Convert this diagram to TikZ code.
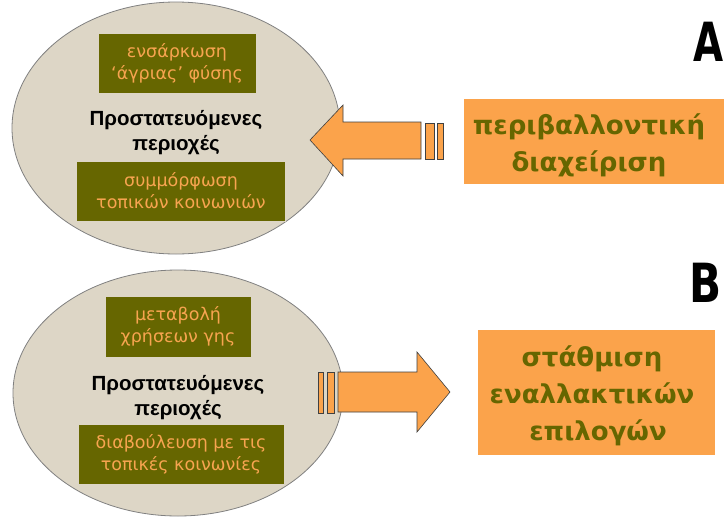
\documentclass[tikz,border=0pt]{standalone}
\usepackage{fontspec}
\setmainfont{DejaVu Sans}
\usetikzlibrary{shapes.geometric}
\newfontfamily\innerfont{DejaVu Sans}
\newfontfamily\titlefont{Liberation Sans}
\newfontfamily\outerfont{DejaVu Sans}
\definecolor{ellfill}{HTML}{DDD6C6}
\definecolor{ellline}{HTML}{808080}
\definecolor{olivebox}{HTML}{666600}
\definecolor{orangebox}{HTML}{FBA34B}
\definecolor{orangetext}{HTML}{F7A450}
\definecolor{olivetext}{HTML}{666600}
\tikzset{
  ell/.style={ellipse, draw=ellline, line width=0.8pt, fill=ellfill, inner sep=0pt},
  inbox/.style={fill=olivebox, draw=ellfill, line width=0.6pt, text=orangetext, align=center, inner sep=0pt,
    font=\innerfont\fontsize{17.5}{22}\selectfont},
  ttl/.style={align=center, text=black, font=\titlefont\bfseries\fontsize{20.5}{25}\selectfont},
  outbox/.style={fill=orangebox, text=olivetext, align=center, inner sep=0pt,
    font=\outerfont\bfseries\fontsize{26}{37}\selectfont},
  blockarrow/.style={fill=orangebox, draw=black!75, line width=0.6pt, line join=miter},
  letter/.style={font=\bfseries\fontsize{54}{54}\selectfont, text=black, inner sep=0pt, anchor=west}
}
\begin{document}
\begin{tikzpicture}[x=1pt,y=-1pt]
\useasboundingbox (0,0) rectangle (724,517);
\fill[white] (0,0) rectangle (724,517);

% ---------- A ----------
\node[ell, minimum width=328pt, minimum height=252pt] (ellA) at (176,128) {};
\node[inbox, minimum width=158pt, minimum height=60pt] (a1) at (177,63) {ενσάρκωση\\‘άγριας’ φύσης};
\node[ttl] (a2) at (176,133) {Προστατευόμενες\\περιοχές};
\node[inbox, minimum width=209pt, minimum height=60pt] (a3) at (181,191) {συμμόρφωση\\τοπικών κοινωνιών};

\node[outbox, minimum width=262pt, minimum height=85pt, anchor=west] (oA) at (464,141.5) {};
\node[outbox, fill=none] (tA) at (589,145) {περιβαλλοντική\\διαχείριση};

\draw[blockarrow] (310,140) -- (343,105) -- (343,122) -- (421,122) -- (421,159)
  -- (343,159) -- (343,176) -- cycle;
\draw[blockarrow] (425,123) rectangle (434,159);
\draw[blockarrow] (437,123) rectangle (443,159);

\node[letter, xscale=0.72] (lA) at (693,42) {A};

% ---------- B ----------
\node[ell, minimum width=330pt, minimum height=246pt] (ellB) at (178,393) {};
\node[inbox, minimum width=146pt, minimum height=61pt] (b1) at (178,326.5) {μεταβολή\\χρήσεων γης};
\node[ttl] (b2) at (178,398) {Προστατευόμενες\\περιοχές};
\node[inbox, minimum width=206pt, minimum height=60pt] (b3) at (181,454) {διαβούλευση με τις\\τοπικές κοινωνίες};

\node[outbox, minimum width=237pt, minimum height=125pt] (oB) at (596.5,392.5) {};
\node[outbox, fill=none] (tB) at (592,396) {στάθμιση\\εναλλακτικών\\\hspace*{12pt}επιλογών};

\draw[blockarrow] (338,372) -- (417,372) -- (417,352) -- (450,392) -- (417,432)
  -- (417,412) -- (338,412) -- cycle;
\draw[blockarrow] (318,372) rectangle (323,413);
\draw[blockarrow] (327,372) rectangle (334,413);

\node[letter, xscale=0.78] (lB) at (689,283) {B};
\end{tikzpicture}
\end{document}
